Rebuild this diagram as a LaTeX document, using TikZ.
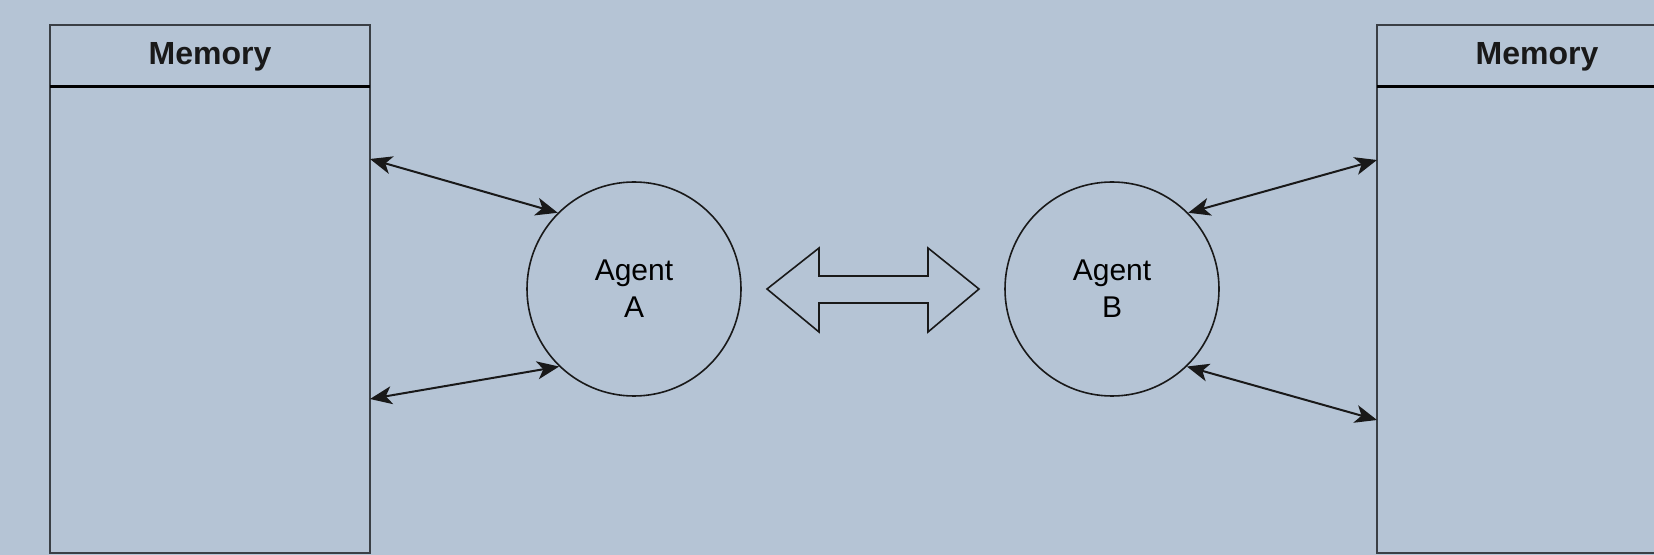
\documentclass[tikz,border=0pt]{standalone}
\usepackage{fontspec}
\setmainfont{Liberation Sans}
\usetikzlibrary{arrows.meta}
\definecolor{bg}{HTML}{B5C4D5}
\definecolor{boxline}{HTML}{3A3F45}
\tikzset{
  memory/.style={draw=boxline, line width=1.1pt, minimum width=160pt, minimum height=264pt, inner sep=0pt},
  memtitle/.style={font=\bfseries\fontsize{16}{19}\selectfont, text=black!90, inner sep=0pt},
  agent/.style={circle, draw=black!90, line width=0.8pt, minimum size=107pt, inner sep=0pt, align=center, font=\fontsize{15}{18.5}\selectfont},
  link/.style={draw=black!90, line width=1pt, {Stealth[length=11pt,width=9pt,inset=3pt]}-{Stealth[length=11pt,width=9pt,inset=3pt]}},
  bigarrow/.style={draw=black!90, line width=0.8pt, line join=miter}
}
\begin{document}
\begin{tikzpicture}[x=0.5pt, y=-0.5pt]
\fill[bg] (0,0) rectangle (1654,555);
\useasboundingbox (0,0) rectangle (1654,555);
% left memory
\node[memory] (ML) at (210,289) {};
\draw[black, line width=1.1pt] (50,86.5) -- (370,86.5);
\node[memtitle] (MLt) at (210,57) {Memory};
% right memory
\node[memory] (MR) at (1537,289) {};
\draw[black, line width=1.1pt] (1377,86.5) -- (1697,86.5);
\node[memtitle] (MRt) at (1537,57) {Memory};
% agents
\node[agent] (A) at (634,289) {Agent\\A};
\node[agent] (B) at (1112,289) {Agent\\B};
% connection points on memories
\coordinate (ml1) at (370,159);
\coordinate (ml2) at (370,399);
\coordinate (mr1) at (1377,160);
\coordinate (mr2) at (1377,420);
\draw[link] (ml1) -- (A.135);
\draw[link] (ml2) -- (A.226);
\draw[link] (B.45) -- (mr1);
\draw[link] (B.314) -- (mr2);
% double arrow between agents
\draw[bigarrow] (767,289) -- (819,248) -- (819,276) -- (928,276) -- (928,248) -- (979,289) -- (928,332) -- (928,303) -- (819,303) -- (819,332) -- cycle;
\end{tikzpicture}
\end{document}
